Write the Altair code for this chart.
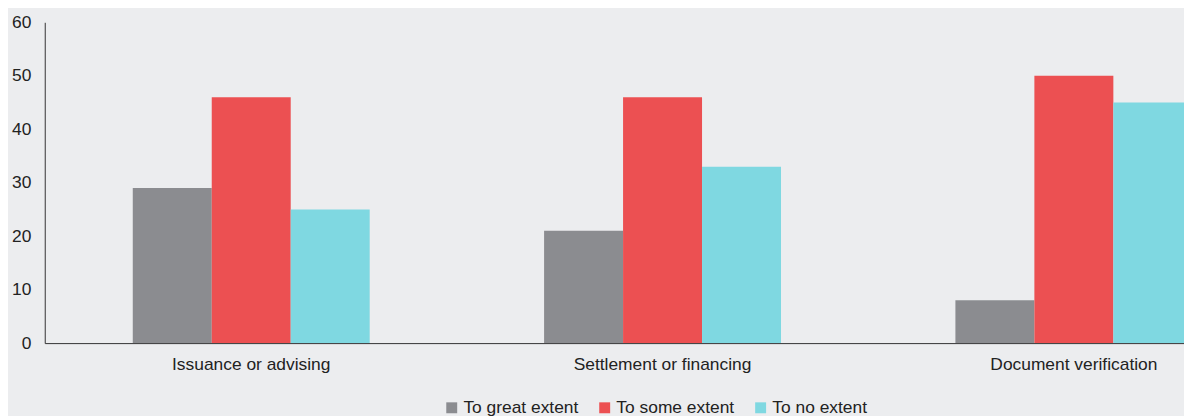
import altair as alt
import pandas as pd

categories = ["Issuance or advising", "Settlement or financing", "Document verification"]
series = ["To great extent", "To some extent", "To no extent"]
great = [29, 21, 8]
some = [46, 46, 50]
none_ = [25, 33, 45]
colors = ["#8B8C90", "#EC5052", "#7FD8E1"]

rows = []
for i, c in enumerate(categories):
    for s, vals in zip(series, [great, some, none_]):
        rows.append({"cat": c, "series": s, "value": vals[i]})
df = pd.DataFrame(rows)

FONT = "Liberation Sans"
FS = 17.5

chart = alt.Chart(df).mark_bar().encode(
    x=alt.X("cat:N", sort=categories, title=None,
            scale=alt.Scale(range=[0, 1244], paddingInner=0.424, paddingOuter=0.214),
            axis=alt.Axis(labelAngle=0, ticks=False, domainColor="#333333",
                          labelFontSize=FS, labelColor="#222222", labelPadding=13,
                          labelFont=FONT)),
    xOffset=alt.XOffset("series:N", sort=series,
                        scale=alt.Scale(paddingInner=0, paddingOuter=0)),
    y=alt.Y("value:Q", title=None,
            scale=alt.Scale(domain=[0, 60]),
            axis=alt.Axis(values=[0, 10, 20, 30, 40, 50, 60], ticks=False, grid=False,
                          domainColor="#333333", labelFontSize=FS, labelColor="#222222",
                          labelPadding=14, labelFont=FONT)),
    color=alt.Color("series:N", sort=series,
                    scale=alt.Scale(domain=series, range=colors),
                    legend=alt.Legend(orient="none", legendX=401, legendY=379,
                                      direction="horizontal", title=None,
                                      symbolType="square", symbolSize=121,
                                      symbolStrokeWidth=0, labelFontSize=FS,
                                      labelFont=FONT, labelColor="#222222",
                                      labelOffset=3, columnPadding=17)),
).properties(
    width=1147,
    height=323,
    background="#ECEDEF",
    padding={"left": 37, "top": 13, "right": 0, "bottom": 72},
    autosize=alt.AutoSizeParams(type="none"),
).configure_view(stroke=None)

chart.save("out.html", embed_options={"renderer": "svg", "actions": False})
